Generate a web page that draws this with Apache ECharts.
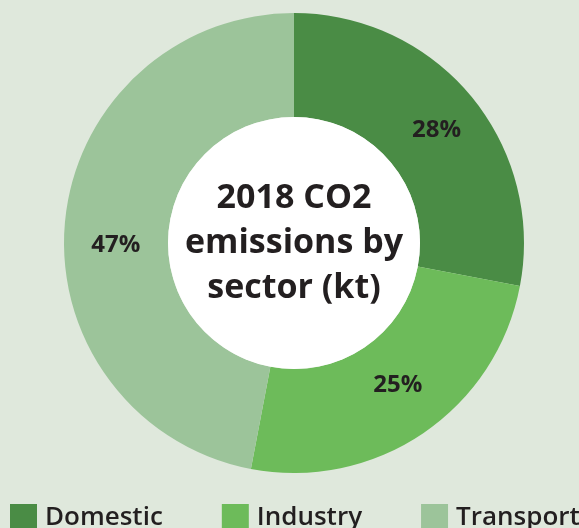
<!DOCTYPE html>
<html><head><meta charset="utf-8">
<script src="https://cdn.jsdelivr.net/npm/echarts@6/dist/echarts.min.js"></script>
<style>html,body{margin:0;padding:0;background:#dfe8dc;}#c{width:579px;height:528px;}</style>
</head><body><div id="c"></div>
<script>
const categories = ['Domestic', 'Industry', 'Transport'];
const shares = [28, 25, 47];
const colors = ['#4a8c45', '#6dbb5a', '#9cc49a'];
const titleLines = ['2018 CO2', 'emissions by', 'sector (kt)'];
const labelNudges = [[3, 3], [2, -8], [2, 19]];

const FONT = 'Open Sans';
const chart = echarts.init(document.getElementById('c'), null, {renderer: 'canvas'});
chart.setOption({
  backgroundColor: '#dfe8dc',
  animation: false,
  color: colors,
  legend: {
    data: categories,
    left: 10, top: 504, padding: 0, width: 640,
    icon: 'rect', itemWidth: 27, itemHeight: 27, itemGap: 59,
    textStyle: {fontFamily: FONT, fontWeight: 600, fontSize: 26, color: '#231f20', padding: [0,0,0,3]},
    selectedMode: false
  },
  graphic: [{
    type: 'text', z: 100, x: 294, y: 243,
    style: {
      text: titleLines.join('\n'),
      fontFamily: FONT, fontWeight: 'bold', fontSize: 34, lineHeight: 45,
      fill: '#231f20', align: 'center', verticalAlign: 'middle'
    }
  }],
  series: [{
    type: 'pie', center: [294, 243], radius: [126, 230], startAngle: 90, clockwise: true,
    silent: true,
    label: {position: 'inside', formatter: '{c}%', fontFamily: FONT, fontWeight: 'bold', fontSize: 24, color: '#231f20'},
    labelLine: {show: false},
    itemStyle: {borderWidth: 0},
    data: categories.map((n, i) => ({name: n, value: shares[i], label: {offset: labelNudges[i]}}))
  }, {
    type: 'pie', center: [294, 243], radius: [0, 126], silent: true,
    label: {show: false}, labelLine: {show: false},
    itemStyle: {color: '#ffffff'},
    data: [{name: 'hole', value: 1}]
  }]
});
</script></body></html>
